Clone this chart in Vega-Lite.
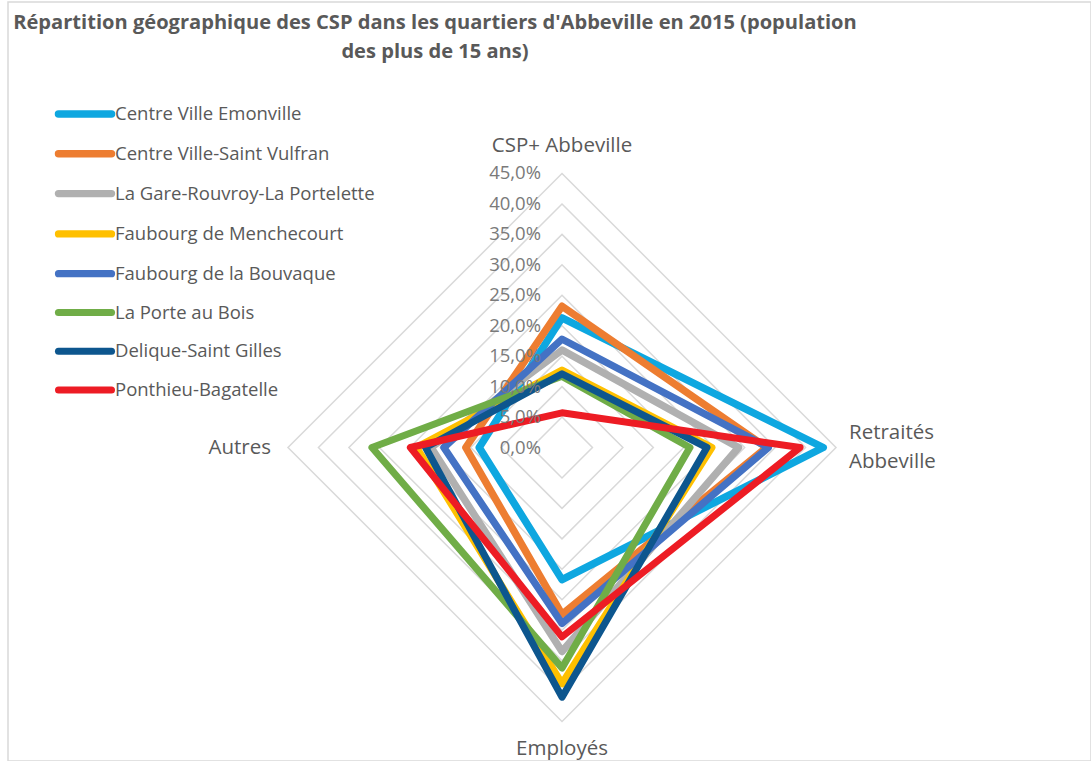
{
  "$schema": "https://vega.github.io/schema/vega-lite/v6.json",
  "width": 1083,
  "height": 759,
  "autosize": {"type": "none"},
  "padding": {"left": 8, "top": 2, "right": 0, "bottom": 0},
  "background": "white",
  "config": {
    "view": {"stroke": "#d9d9d9", "strokeWidth": 1.5},
    "font": "Open Sans",
    "locale": {"number": {"decimal": ",", "thousands": " ", "grouping": [3], "currency": ["", " €"]}}
  },
  "title": {
    "text": ["Répartition géographique des CSP dans les quartiers d'Abbeville en 2015 (population", "des plus de 15 ans)"],
    "anchor": "start",
    "align": "center",
    "dx": 427,
    "offset": -60,
    "frame": "group",
    "fontSize": 20.1,
    "fontWeight": "bold",
    "color": "#595959",
    "font": "Open Sans",
    "lineHeight": 29
  },
  "datasets": {
    "quartiers": [
      {"quartier": "Centre Ville Emonville", "axe": "CSP+ Abbeville", "part": 0.213},
      {"quartier": "Centre Ville Emonville", "axe": "Retraités Abbeville", "part": 0.429},
      {"quartier": "Centre Ville Emonville", "axe": "Employés", "part": 0.217},
      {"quartier": "Centre Ville Emonville", "axe": "Autres", "part": 0.136},
      {"quartier": "Centre Ville-Saint Vulfran", "axe": "CSP+ Abbeville", "part": 0.232},
      {"quartier": "Centre Ville-Saint Vulfran", "axe": "Retraités Abbeville", "part": 0.336},
      {"quartier": "Centre Ville-Saint Vulfran", "axe": "Employés", "part": 0.274},
      {"quartier": "Centre Ville-Saint Vulfran", "axe": "Autres", "part": 0.158},
      {"quartier": "La Gare-Rouvroy-La Portelette", "axe": "CSP+ Abbeville", "part": 0.160},
      {"quartier": "La Gare-Rouvroy-La Portelette", "axe": "Retraités Abbeville", "part": 0.290},
      {"quartier": "La Gare-Rouvroy-La Portelette", "axe": "Employés", "part": 0.335},
      {"quartier": "La Gare-Rouvroy-La Portelette", "axe": "Autres", "part": 0.215},
      {"quartier": "Faubourg de Menchecourt", "axe": "CSP+ Abbeville", "part": 0.127},
      {"quartier": "Faubourg de Menchecourt", "axe": "Retraités Abbeville", "part": 0.246},
      {"quartier": "Faubourg de Menchecourt", "axe": "Employés", "part": 0.388},
      {"quartier": "Faubourg de Menchecourt", "axe": "Autres", "part": 0.239},
      {"quartier": "Faubourg de la Bouvaque", "axe": "CSP+ Abbeville", "part": 0.178},
      {"quartier": "Faubourg de la Bouvaque", "axe": "Retraités Abbeville", "part": 0.339},
      {"quartier": "Faubourg de la Bouvaque", "axe": "Employés", "part": 0.289},
      {"quartier": "Faubourg de la Bouvaque", "axe": "Autres", "part": 0.194},
      {"quartier": "La Porte au Bois", "axe": "CSP+ Abbeville", "part": 0.117},
      {"quartier": "La Porte au Bois", "axe": "Retraités Abbeville", "part": 0.210},
      {"quartier": "La Porte au Bois", "axe": "Employés", "part": 0.362},
      {"quartier": "La Porte au Bois", "axe": "Autres", "part": 0.312},
      {"quartier": "Delique-Saint Gilles", "axe": "CSP+ Abbeville", "part": 0.121},
      {"quartier": "Delique-Saint Gilles", "axe": "Retraités Abbeville", "part": 0.238},
      {"quartier": "Delique-Saint Gilles", "axe": "Employés", "part": 0.410},
      {"quartier": "Delique-Saint Gilles", "axe": "Autres", "part": 0.224},
      {"quartier": "Ponthieu-Bagatelle", "axe": "CSP+ Abbeville", "part": 0.057},
      {"quartier": "Ponthieu-Bagatelle", "axe": "Retraités Abbeville", "part": 0.391},
      {"quartier": "Ponthieu-Bagatelle", "axe": "Employés", "part": 0.311},
      {"quartier": "Ponthieu-Bagatelle", "axe": "Autres", "part": 0.249}
    ],
    "niveaux": [
      {"niveau": 0}, {"niveau": 0.05}, {"niveau": 0.1}, {"niveau": 0.15}, {"niveau": 0.2},
      {"niveau": 0.25}, {"niveau": 0.3}, {"niveau": 0.35}, {"niveau": 0.4}, {"niveau": 0.45}
    ]
  },
  "layer": [
    {
      "data": {"name": "niveaux"},
      "transform": [
        {"filter": "datum.niveau > 0"},
        {"calculate": "['CSP+ Abbeville','Retraités Abbeville','Employés','Autres']", "as": "axe"},
        {"flatten": ["axe"]},
        {"calculate": "indexof(['CSP+ Abbeville','Retraités Abbeville','Employés','Autres'], datum.axe)", "as": "k"},
        {"calculate": "datum.niveau * sin(datum.k * PI / 2)", "as": "gx"},
        {"calculate": "datum.niveau * cos(datum.k * PI / 2)", "as": "gy"}
      ],
      "mark": {"type": "line", "interpolate": "linear-closed", "stroke": "#d9d9d9", "strokeWidth": 1.5},
      "encoding": {
        "x": {"field": "gx", "type": "quantitative", "scale": {"domain": [-0.90984, 0.86878], "nice": false, "zero": false}, "axis": null},
        "y": {"field": "gy", "type": "quantitative", "scale": {"domain": [-0.51486, 0.73165], "nice": false, "zero": false}, "axis": null},
        "detail": {"field": "niveau", "type": "nominal"},
        "order": {"field": "k", "type": "quantitative"}
      }
    },
    {
      "data": {"name": "quartiers"},
      "transform": [
        {"calculate": "indexof(['CSP+ Abbeville','Retraités Abbeville','Employés','Autres'], datum.axe)", "as": "k"},
        {"calculate": "datum.part * sin(datum.k * PI / 2)", "as": "px"},
        {"calculate": "datum.part * cos(datum.k * PI / 2)", "as": "py"}
      ],
      "mark": {"type": "line", "interpolate": "linear-closed", "strokeJoin": "round", "strokeCap": "round"},
      "encoding": {
        "x": {"field": "px", "type": "quantitative", "scale": {"domain": [-0.90984, 0.86878], "nice": false, "zero": false}, "axis": null},
        "y": {"field": "py", "type": "quantitative", "scale": {"domain": [-0.51486, 0.73165], "nice": false, "zero": false}, "axis": null},
        "color": {
          "field": "quartier",
          "type": "nominal",
          "scale": {
            "domain": ["Centre Ville Emonville", "Centre Ville-Saint Vulfran", "La Gare-Rouvroy-La Portelette", "Faubourg de Menchecourt", "Faubourg de la Bouvaque", "La Porte au Bois", "Delique-Saint Gilles", "Ponthieu-Bagatelle"],
            "range": ["#0EA7E0", "#ED7D31", "#B0B0B0", "#FFC000", "#4472C4", "#70AD47", "#0D568E", "#ED1C24"]
          },
          "legend": {
            "orient": "none",
            "legendX": 64,
            "legendY": 99,
            "title": null,
            "symbolType": "M-3,0H3",
            "symbolSize": 312,
            "symbolStrokeWidth": 5,
            "labelFontSize": 18.5,
            "labelColor": "#595959",
            "labelFont": "Open Sans",
            "labelOffset": 17,
            "labelLimit": 400,
            "rowPadding": 9.8,
            "encode": {"symbols": {"update": {"strokeCap": {"value": "round"}}}}
          }
        },
        "strokeWidth": {
          "field": "quartier",
          "type": "nominal",
          "scale": {
            "domain": ["Centre Ville Emonville", "Centre Ville-Saint Vulfran", "La Gare-Rouvroy-La Portelette", "Faubourg de Menchecourt", "Faubourg de la Bouvaque", "La Porte au Bois", "Delique-Saint Gilles", "Ponthieu-Bagatelle"],
            "range": [7.5, 7, 5, 5, 5, 4.5, 5, 9]
          },
          "legend": null
        },
        "order": {"field": "k", "type": "quantitative"}
      }
    },
    {
      "data": {"name": "niveaux"},
      "mark": {"type": "text", "align": "right", "baseline": "middle", "dx": -21, "fontSize": 18.5, "color": "#7a7a7a", "font": "Open Sans"},
      "encoding": {
        "x": {"datum": 0, "type": "quantitative"},
        "y": {"field": "niveau", "type": "quantitative"},
        "text": {"field": "niveau", "type": "quantitative", "format": ".1%"}
      }
    },
    {
      "data": {"values": [{"axe": "CSP+ Abbeville"}]},
      "mark": {"type": "text", "align": "center", "baseline": "middle", "dy": -27, "fontSize": 20.5, "color": "#595959", "font": "Open Sans"},
      "encoding": {
        "x": {"datum": 0, "type": "quantitative"},
        "y": {"datum": 0.45, "type": "quantitative"},
        "text": {"field": "axe"}
      }
    },
    {
      "data": {"values": [{"axe": "Retraités\nAbbeville"}]},
      "mark": {"type": "text", "align": "left", "baseline": "middle", "dx": 13, "dy": -14.5, "fontSize": 20.5, "lineHeight": 29, "lineBreak": "\n", "color": "#595959", "font": "Open Sans"},
      "encoding": {
        "x": {"datum": 0.45, "type": "quantitative"},
        "y": {"datum": 0, "type": "quantitative"},
        "text": {"field": "axe"}
      }
    },
    {
      "data": {"values": [{"axe": "Employés"}]},
      "mark": {"type": "text", "align": "center", "baseline": "middle", "dy": 27, "fontSize": 20.5, "color": "#595959", "font": "Open Sans"},
      "encoding": {
        "x": {"datum": 0, "type": "quantitative"},
        "y": {"datum": -0.45, "type": "quantitative"},
        "text": {"field": "axe"}
      }
    },
    {
      "data": {"values": [{"axe": "Autres"}]},
      "mark": {"type": "text", "align": "right", "baseline": "middle", "dx": -17, "fontSize": 20.5, "color": "#595959", "font": "Open Sans"},
      "encoding": {
        "x": {"datum": -0.45, "type": "quantitative"},
        "y": {"datum": 0, "type": "quantitative"},
        "text": {"field": "axe"}
      }
    }
  ]
}
